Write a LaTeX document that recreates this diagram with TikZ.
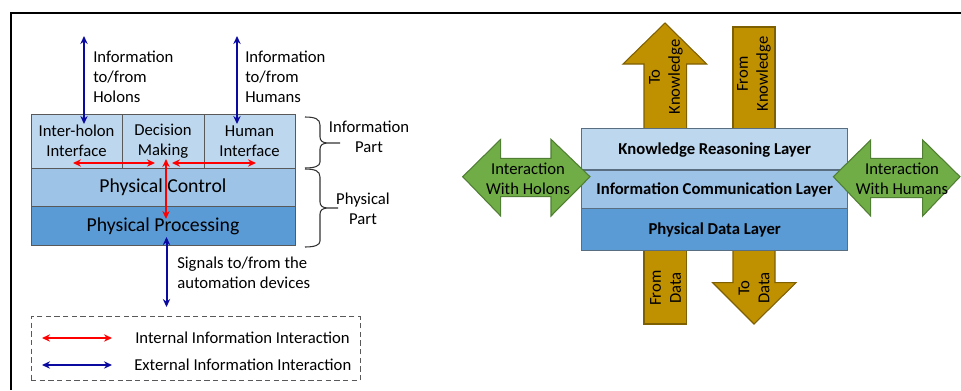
\documentclass[tikz,border=0pt]{standalone}
\usepackage{fontspec}
\setmainfont{Carlito}
\usetikzlibrary{arrows.meta}
\definecolor{lbA}{HTML}{BDD7EE}
\definecolor{lbB}{HTML}{9DC3E6}
\definecolor{lbC}{HTML}{5B9BD5}
\definecolor{goldf}{HTML}{BF9000}
\definecolor{goldb}{HTML}{7F6000}
\definecolor{grnf}{HTML}{70AD47}
\definecolor{grnb}{HTML}{507E32}
\definecolor{navyc}{RGB}{10,10,160}
\definecolor{redc}{RGB}{255,0,0}
\definecolor{layb}{HTML}{5A6E82}
\begin{document}
\begin{tikzpicture}[x=0.75pt,y=-0.75pt,
  font=\fontsize{12.5}{15}\selectfont,
  cell/.style={draw=gray!70!black, line width=0.7pt, inner sep=0pt, align=center},
  bigcell/.style={cell, minimum width=198pt, text height=8.5pt, text depth=0pt, font=\fontsize{14.8}{17}\selectfont},
  layer/.style={draw=layb, line width=0.8pt, inner sep=0pt, align=center, minimum width=199.5pt, text height=7.5pt, text depth=0pt, font=\fontsize{12.5}{15}\selectfont\bfseries},
  txt/.style={inner sep=0pt, align=left},
  ctxt/.style={inner sep=0pt, align=center},
  rtxt/.style={inner sep=0pt, align=center, rotate=90},
  redarr/.style={draw=redc, line width=1.5pt, {Stealth[length=6pt,width=5.5pt]}-{Stealth[length=6pt,width=5.5pt]}},
  bluearr/.style={draw=navyc, line width=1.5pt, {Stealth[length=6pt,width=5.5pt]}-{Stealth[length=6pt,width=5.5pt]}},
  goldshape/.style={fill=goldf, draw=goldb, line width=0.8pt},
  grnshape/.style={fill=grnf, draw=grnb, line width=0.8pt},
  bracep/.style={draw=black!80, line width=0.8pt}
]
\useasboundingbox (0,0) rectangle (961,390);
% frame
\draw[line width=1.5pt] (10.5,390) -- (10.5,12.5) -- (961,12.5);

% ---------------- left diagram ----------------
\node[cell, fill=lbA, minimum width=68.25pt, minimum height=40.5pt] (ih) at (76.5,141) {Inter-holon\\Interface};
\node[cell, fill=lbA, minimum width=61.5pt, minimum height=40.5pt] (dm) at (163,141) {Decision\\Making};
\node[cell, fill=lbA, minimum width=68.25pt, minimum height=40.5pt] (hi) at (249.5,141) {Human\\Interface};
\node[bigcell, fill=lbB, minimum height=28.5pt] (pc) at (163,187) {Physical Control};
\node[bigcell, fill=lbC, minimum height=29.25pt] (pp) at (163,225.5) {Physical Processing};

% external arrows
\coordinate (holtop) at (84,36);
\coordinate (holbot) at (84,124);
\coordinate (humtop) at (237,36);
\coordinate (humbot) at (237,124);
\coordinate (sigtop) at (166.5,237);
\coordinate (sigbot) at (166.5,307);
\draw[bluearr] (holtop) -- (holbot);
\draw[bluearr] (humtop) -- (humbot);
\draw[bluearr] (sigtop) -- (sigbot);
\node[txt, anchor=west] (holtxt) at (93,77) {Information\\to/from\\Holons};
\node[txt, anchor=west] (humtxt) at (245,77) {Information\\to/from\\Humans};
\node[txt, anchor=west] (sigtxt) at (177,273) {Signals to/from the\\automation devices};

% internal arrows
\coordinate (r1a) at (73,163);
\coordinate (r1b) at (155,163);
\coordinate (r2a) at (172,163);
\coordinate (r2b) at (256,163);
\coordinate (rva) at (166,159);
\coordinate (rvb) at (166,219);
\draw[redarr] (r1a) -- (r1b);
\draw[redarr] (r2a) -- (r2b);
\draw[redarr] (rva) -- (rvb);

% braces
\draw[bracep] (305,117) .. controls (315,117) and (320,119) .. (320,125) -- (320,137)
  .. controls (320,141) and (323,143) .. (328,143) -- (340,143)
  (328,143) .. controls (323,143) and (320,145) .. (320,149) -- (320,162)
  .. controls (320,166) and (315,168) .. (305,168);
\draw[bracep] (305,169) .. controls (315,169) and (320,171) .. (320,177) -- (320,202)
  .. controls (320,206) and (323,208) .. (328,208) -- (338,208)
  (328,208) .. controls (323,208) and (320,210) .. (320,214) -- (320,241)
  .. controls (320,245) and (315,247) .. (305,247);
\node[ctxt] (infopart) at (369,137) {Information\\Part};
\node[ctxt] (physpart) at (363,209) {Physical\\Part};

% legend
\node[draw=gray!70!black, dash pattern=on 4pt off 2.5pt, line width=0.7pt, minimum width=246.75pt, minimum height=48pt, inner sep=0pt] (legend) at (195.5,348.7) {};
\coordinate (lr1) at (42,338);
\coordinate (lr2) at (112,338);
\coordinate (lb1) at (42,365);
\coordinate (lb2) at (112,365);
\draw[redarr] (lr1) -- (lr2);
\draw[bluearr] (lb1) -- (lb2);
\node[txt, anchor=west] (inttxt) at (135,338) {Internal Information Interaction};
\node[txt, anchor=west] (exttxt) at (134,365) {External Information Interaction};

% ---------------- right diagram ----------------
% gold arrows
\draw[goldshape] (644,129) -- (644,64) -- (623,64) -- (665,23) -- (706.7,64) -- (686.7,64) -- (686.7,129) -- cycle;
\draw[goldshape] (733,27) rectangle (775,129);
\draw[goldshape] (644,250) rectangle (686.7,324);
\draw[goldshape] (733,250) -- (733,282.7) -- (712.7,282.7) -- (754,324) -- (796,282.7) -- (775,282.7) -- (775,250) -- cycle;
\node[rtxt] (toK) at (666,77) {To\\Knowledge};
\node[rtxt] (fromK) at (754,74) {From\\Knowledge};
\node[rtxt] (fromD) at (665.5,288) {From\\Data};
\node[rtxt] (toD) at (754,288) {To\\Data};

% layers
\node[layer, fill=lbA, minimum height=31pt] (kr) at (714.7,149.3) {Knowledge Reasoning Layer};
\node[layer, fill=lbB, minimum height=28.7pt] (icl) at (714.7,189.2) {Information Communication Layer};
\node[layer, fill=lbC, minimum height=31.3pt] (pdl) at (714.7,229.2) {Physical Data Layer};

% green arrows
\draw[grnshape] (462.7,176.7) -- (500.7,139.3) -- (500.7,158.3) -- (551,158.3) -- (551,139.3) -- (590,176.7) -- (551,216) -- (551,196.7) -- (500.7,196.7) -- (500.7,216) -- cycle;
\draw[grnshape] (833.3,176.7) -- (870.7,140) -- (870.7,158.3) -- (922.7,158.3) -- (922.7,140) -- (960,176.7) -- (922.7,216) -- (922.7,197.7) -- (870.7,197.7) -- (870.7,216) -- cycle;
\node[ctxt] (holg) at (528,179) {Interaction\\With Holons};
\node[ctxt] (humg) at (902,179) {Interaction\\With Humans};
\end{tikzpicture}
\end{document}
